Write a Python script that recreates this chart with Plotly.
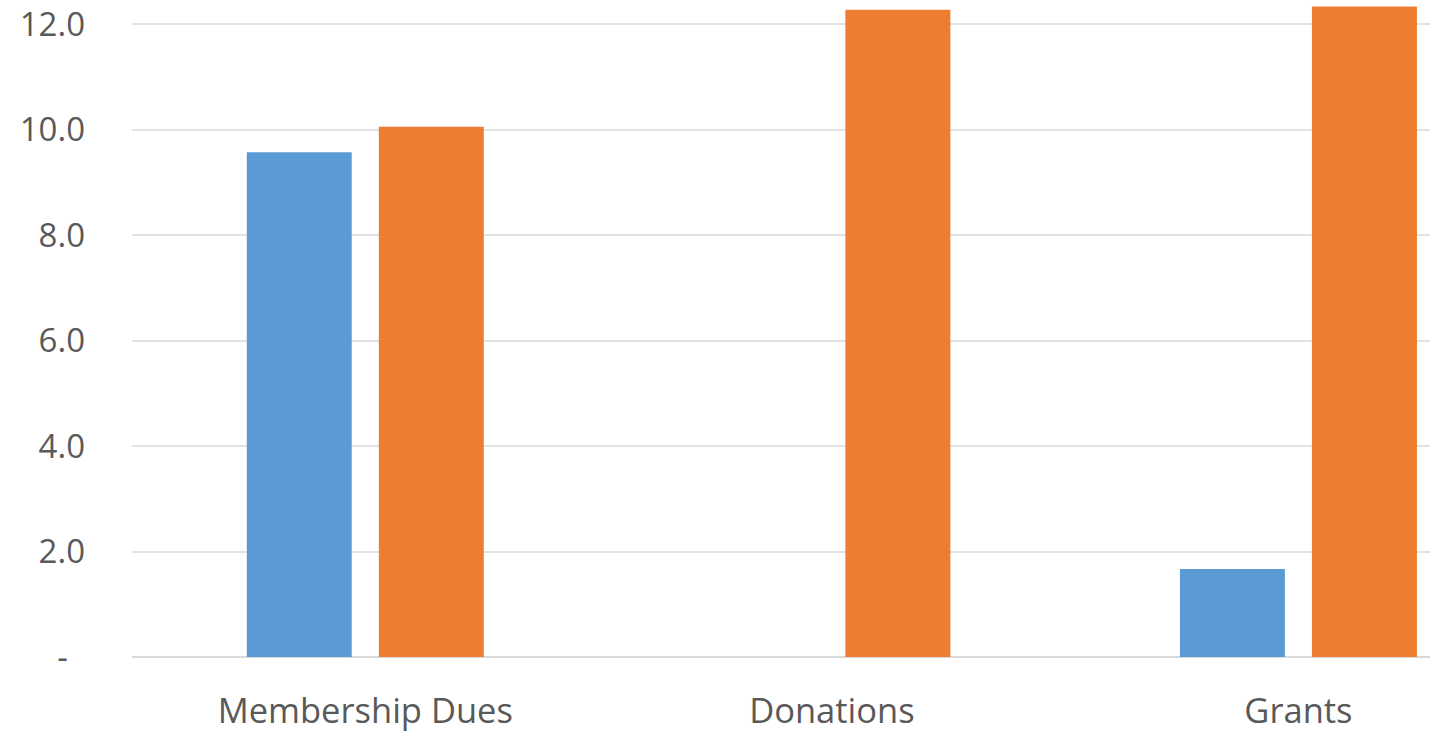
import plotly.graph_objects as go

categories = ["Membership Dues", "Donations", "Grants"]
series_a = [9.57, 0.0, 1.67]
series_b = [10.05, 12.27, 12.33]
tick_vals = [0, 2, 4, 6, 8, 10, 12]
tick_text = ["-\u00a0\u00a0", "2.0", "4.0", "6.0", "8.0", "10.0", "12.0"]

fig = go.Figure()
fig.add_trace(go.Bar(x=categories, y=series_a, marker_color="#5B9BD5", marker_line_width=0, name="A"))
fig.add_trace(go.Bar(x=categories, y=series_b, marker_color="#ED7D31", marker_line_width=0, name="B"))

font = dict(family="Open Sans", size=33, color="#595959")
xfont = dict(family="Open Sans", size=34.5, color="#595959")
fig.update_layout(
    width=1430, height=733,
    margin=dict(l=132, r=0, t=0, b=76),
    paper_bgcolor="white", plot_bgcolor="white",
    barmode="group", bargap=0.434, bargroupgap=0.205,
    showlegend=False,
    font=font,
)
fig.update_xaxes(range=[-0.5, 2.282], showgrid=False, showline=False, zeroline=False,
                 tickfont=xfont, ticks="", ticklabelstandoff=30)
fig.update_yaxes(range=[0, 12.455], tickvals=tick_vals, ticktext=tick_text,
                 showgrid=True, gridcolor="#e2e2e2", gridwidth=2,
                 zeroline=True, zerolinecolor="#d9d9d9", zerolinewidth=2,
                 showline=False, tickfont=font, ticks="", ticklabelstandoff=46)
fig.write_html("out.html")
